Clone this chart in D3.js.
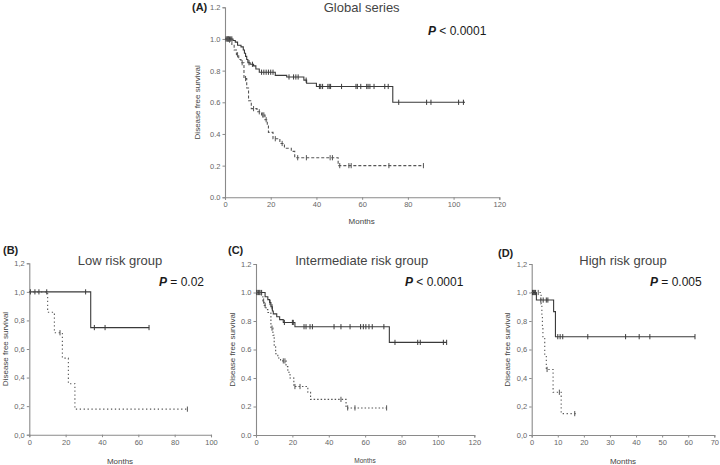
<!DOCTYPE html>
<html>
<head>
<meta charset="utf-8">
<script src="https://cdn.jsdelivr.net/npm/d3@7"></script>
<style>
html,body{margin:0;padding:0;background:#fff;}
svg{display:block;}
</style>
</head>
<body>
<svg id="chart" width="720" height="465"></svg>
<script>
// ---------- DATA (Kaplan-Meier steps: [month, survival after step]) ----------
const globalSolidSteps = [[0,1],[3.5,0.99],[4.5,0.98],[5.5,0.96],[7,0.95],[8,0.93],[8.5,0.91],[9,0.89],[9.5,0.87],[10,0.85],[11,0.84],[12.5,0.83],[13.5,0.81],[15,0.79],[22,0.77],[27,0.76],[34.5,0.74],[35.7,0.72],[40,0.70],[73.4,0.60]];
const globalSolidEnd = 105;
const globalSolidCensor = [0.5,1,1.5,2,2.5,3,10.5,12,16,17,18,19,20,21,28,30,31,32,35.5,41.3,41.9,42.7,45,45.6,46.2,51,57.3,57.9,59.4,62,62.6,63.4,65.2,69.9,71.4,76,88.2,90.1,102.2,104.3];
const globalDashSteps = [[0,1],[2,0.98],[3,0.96],[4,0.93],[5,0.90],[6,0.87],[7,0.85],[8.3,0.75],[9.5,0.69],[10.3,0.61],[11.5,0.56],[14,0.54],[16,0.52],[17.5,0.49],[18.5,0.45],[19,0.41],[21,0.37],[24,0.34],[26,0.31],[29,0.29],[30.5,0.25],[49.5,0.20]];
const globalDashEnd = 87;
const globalDashCensor = [1,1.5,5.5,7.5,9,12.5,15,16.5,17,18,22,25,31.8,35.6,46,47,50.2,54.2,55.2,71.7,86.8];

const lowSolidSteps = [[0,1],[33.8,0.75]];
const lowSolidEnd = 66;
const lowSolidCensor = [0.6,3.1,5.3,9.6,31,35.8,41.7,65.9];
const lowDashSteps = [[0,1],[10.1,0.857],[13.8,0.714],[18.2,0.536],[21.5,0.357],[25.1,0.179]];
const lowDashEnd = 87;
const lowDashCensor = [16.9,87];

const intSolidSteps = [[0,1],[5,0.97],[6.5,0.95],[7.5,0.93],[8.2,0.90],[9,0.87],[9.5,0.85],[11.4,0.83],[13,0.81],[15,0.79],[21.4,0.76],[73.3,0.65]];
const intSolidEnd = 104.8;
const intSolidCensor = [0.4,1.3,2.2,3.1,7.7,8.8,15.6,20,20.5,26.4,27.5,29.7,31,42.9,46.7,51.7,57.5,59,60.4,62.1,63.9,70.3,76.4,88.9,90.3,103,104.8];
const intDashSteps = [[0,1],[3,0.97],[3.8,0.94],[4.5,0.91],[5.5,0.88],[6.5,0.86],[8.2,0.75],[9.3,0.70],[10,0.63],[10.8,0.57],[12,0.54],[13.5,0.52],[16.5,0.48],[17.5,0.44],[18.7,0.40],[20.8,0.34],[28.5,0.30],[30,0.25],[49.5,0.19]];
const intDashEnd = 71.8;
const intDashCensor = [1,2,4.2,5,8.8,15,15.9,21.4,24.2,46.7,50.4,54.4,71.8];

const highSolidSteps = [[0,1],[1.8,0.947],[8.4,0.866],[9.1,0.69]];
const highSolidEnd = 62.6;
const highSolidCensor = [0.3,0.6,0.9,1.2,1.5,3.5,4.4,5.6,6.2,10,10.9,11.9,21.5,36,41.2,45.3,62.6];
const highDashSteps = [[0,1],[3.6,0.92],[3.9,0.84],[4.1,0.76],[4.3,0.69],[5,0.56],[5.6,0.46],[8.2,0.30],[11.3,0.15]];
const highDashEnd = 17;
const highDashCensor = [2.5,5.9,10.6,16.5];

const panelLetters = ["(A)","(B)","(C)","(D)"];
const panelTitles = ["Global series","Low risk group","Intermediate risk group","High risk group"];
const pValues = [["P"," < 0.0001"],["P"," = 0.02"],["P"," < 0.0001"],["P"," = 0.005"]];
const xMaxes = [120,100,120,70];
const xTickSteps = [20,20,20,10];
const yTicks = [0,0.2,0.4,0.6,0.8,1.0,1.2];
const decimalComma = [false,true,false,true];
const yTitle = "Disease free survival";
const xTitle = "Months";

// ---------- LAYOUT ----------
const layouts = [
  {x0:225, x1:499.3, y0:197.3, y1:7.3, letter:[192,11], title:[361.7,11.5], p:[428,35], ytitle:200, xtitle:[361.7,223.5], xtsize:8},
  {x0:29.3, x1:211, y0:434.7, y1:263.3, letter:[3,254], title:[120,265], p:[159,286], ytitle:7.5, xtitle:[120,464], xtsize:8},
  {x0:256, x1:474.3, y0:435, y1:264, letter:[228,254], title:[361.7,265], p:[405,286], ytitle:235, xtitle:[365,463], xtsize:6.5},
  {x0:531.7, x1:714.3, y0:435, y1:264, letter:[498,257], title:[623,265], p:[650,286], ytitle:509.5, xtitle:[623,464], xtsize:8}
];
const curves = [
  [{steps:globalSolidSteps,end:globalSolidEnd,censor:globalSolidCensor,dash:null},{steps:globalDashSteps,end:globalDashEnd,censor:globalDashCensor,dash:"3,2"}],
  [{steps:lowSolidSteps,end:lowSolidEnd,censor:lowSolidCensor,dash:null},{steps:lowDashSteps,end:lowDashEnd,censor:lowDashCensor,dash:"1.3,2.6"}],
  [{steps:intSolidSteps,end:intSolidEnd,censor:intSolidCensor,dash:null},{steps:intDashSteps,end:intDashEnd,censor:intDashCensor,dash:"1.5,2"}],
  [{steps:highSolidSteps,end:highSolidEnd,censor:highSolidCensor,dash:null},{steps:highDashSteps,end:highDashEnd,censor:highDashCensor,dash:"1.3,2.6"}]
];

const svg = d3.select("#chart");
const axisColor = "#8a8a8a";
const tickFont = "'Liberation Sans Narrow','Arial Narrow','Liberation Sans',Arial,sans-serif";
const mainFont = "'Liberation Sans',Arial,Helvetica,sans-serif";

function survAt(steps, t){
  let s = steps[0][1];
  for (const st of steps){ if (st[0] <= t) s = st[1]; }
  return s;
}

layouts.forEach((L,i)=>{
  const g = svg.append("g");
  const x = d3.scaleLinear().domain([0,xMaxes[i]]).range([L.x0,L.x1]);
  const y = d3.scaleLinear().domain([0,1.2]).range([L.y0,L.y1]);
  const fmt = v => { const s = d3.format(".1f")(v); return decimalComma[i] ? s.replace(".",",") : s; };

  // axes
  const xAxis = d3.axisBottom(x).tickValues(d3.range(0,xMaxes[i]+0.001,xTickSteps[i])).tickSize(2.5).tickPadding(2).tickFormat(d3.format("d"));
  const yAxis = d3.axisLeft(y).tickValues(yTicks).tickSize(2.5).tickPadding(2).tickFormat(fmt);
  const gx = g.append("g").attr("transform",`translate(0,${L.y0})`).call(xAxis);
  const gy = g.append("g").attr("transform",`translate(${L.x0},0)`).call(yAxis);
  [gx,gy].forEach(a=>{
    a.select(".domain").attr("stroke",axisColor).attr("stroke-width",1.1);
    a.selectAll(".tick line").attr("stroke",axisColor);
    a.selectAll(".tick text").attr("fill","#666").style("font-family",tickFont).style("font-size","7.5px");
  });

  // curves
  const line = d3.line().x(d=>x(d[0])).y(d=>y(d[1])).curve(d3.curveStepAfter);
  curves[i].forEach(c=>{
    const pts = c.steps.concat([[c.end, c.steps[c.steps.length-1][1]]]);
    const col = c.dash ? "#555" : "#3a3a3a";
    g.append("path").attr("d",line(pts)).attr("fill","none")
      .attr("stroke",col).attr("stroke-width",c.dash?1.1:1.1)
      .attr("stroke-dasharray",c.dash);
    g.selectAll(null).data(c.censor).enter().append("line")
      .attr("x1",d=>x(d)).attr("x2",d=>x(d))
      .attr("y1",d=>y(survAt(c.steps,d))-2.6).attr("y2",d=>y(survAt(c.steps,d))+2.6)
      .attr("stroke",col).attr("stroke-width",1);
  });

  // texts
  g.append("text").attr("x",L.letter[0]).attr("y",L.letter[1]).text(panelLetters[i])
    .style("font-family",mainFont).style("font-size","11px").style("font-weight","bold").attr("fill","#222");
  g.append("text").attr("x",L.title[0]).attr("y",L.title[1]).attr("text-anchor","middle").text(panelTitles[i])
    .style("font-family",mainFont).style("font-size","13px").attr("fill","#444");
  const pt = g.append("text").attr("x",L.p[0]).attr("y",L.p[1])
    .style("font-family",mainFont).style("font-size","12px").attr("fill","#1a1a1a");
  pt.append("tspan").text(pValues[i][0]).style("font-style","italic").style("font-weight","bold");
  pt.append("tspan").text(pValues[i][1]);
  g.append("text").attr("transform",`translate(${L.ytitle},${(L.y0+L.y1)/2}) rotate(-90)`)
    .attr("text-anchor","middle").text(yTitle)
    .style("font-family",mainFont).style("font-size","8px").attr("fill","#444");
  g.append("text").attr("x",L.xtitle[0]).attr("y",L.xtitle[1]).attr("text-anchor","middle").text(xTitle)
    .style("font-family",mainFont).style("font-size",L.xtsize+"px").attr("fill","#444");
});
</script>
</body>
</html>
